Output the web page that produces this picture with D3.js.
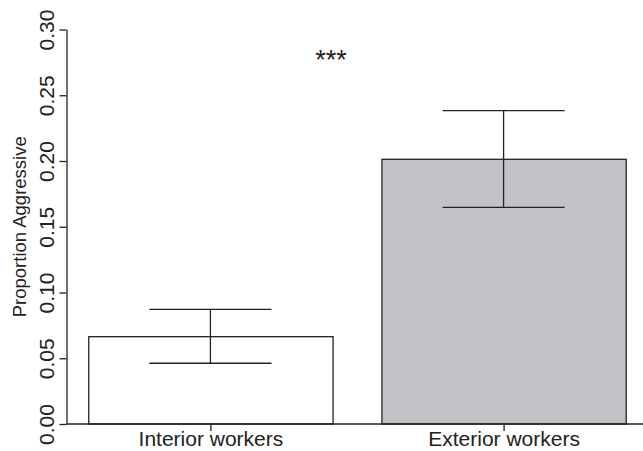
<!DOCTYPE html>
<html>
<head>
<meta charset="utf-8">
<script src="https://cdn.jsdelivr.net/npm/d3@7"></script>
<style>
  html, body { margin: 0; padding: 0; background: #fff; }
  svg { display: block; font-family: "Liberation Sans", Arial, Helvetica, sans-serif; }
</style>
</head>
<body>
<svg id="chart" width="643" height="451"></svg>
<script>
// Proportion of aggressive responses by worker group (mean with error bars)
const categories = ["Interior workers", "Exterior workers"];
const means      = [0.0664, 0.2013];
const lower      = [0.0462, 0.1648];
const upper      = [0.0872, 0.2383];
const fills      = ["#ffffff", "#c1c2c6"];
const yTicks     = [0.00, 0.05, 0.10, 0.15, 0.20, 0.25, 0.30];
const yTitle     = "Proportion Aggressive";
const signif     = "***";

const W = 643, H = 451;
const svg = d3.select("#chart");
const ink = "#222";

const plotLeft = 66.5;
const y = d3.scaleLinear().domain([0, 0.30]).range([424, 29.5]);

// bars of unit width separated by 0.2 of a width, as in a classic barplot
const x = d3.scaleBand()
  .domain(categories)
  .range([39.4, 674.6])
  .paddingInner(1 / 6)
  .paddingOuter(1 / 6);

const data = categories.map((c, i) => ({ c, m: means[i], lo: lower[i], hi: upper[i], fill: fills[i] }));

// bars
svg.append("g").selectAll("rect").data(data).join("rect")
  .attr("x", d => x(d.c) + 0.5)
  .attr("y", d => y(d.m))
  .attr("width", x.bandwidth())
  .attr("height", d => y(0) - y(d.m))
  .attr("fill", d => d.fill)
  .attr("stroke", ink)
  .attr("stroke-width", 1.3);

// error bars
const eb = svg.append("g").attr("stroke", ink).attr("stroke-width", 1.3);
data.forEach(d => {
  const cx = x(d.c) + x.bandwidth() / 2;
  const hw = x.bandwidth() / 4;
  eb.append("line").attr("x1", cx).attr("x2", cx).attr("y1", y(d.lo)).attr("y2", y(d.hi));
  eb.append("line").attr("x1", cx - hw).attr("x2", cx + hw).attr("y1", y(d.lo)).attr("y2", y(d.lo));
  eb.append("line").attr("x1", cx - hw).attr("x2", cx + hw).attr("y1", y(d.hi)).attr("y2", y(d.hi));
});

// y axis
const gy = svg.append("g")
  .attr("transform", `translate(${plotLeft},0)`)
  .call(d3.axisLeft(y).tickValues(yTicks).tickFormat(d3.format(".2f")).tickSize(7).tickSizeOuter(0));
gy.select(".domain").attr("stroke", ink).attr("stroke-width", 1.3);
gy.selectAll(".tick line").attr("stroke", ink).attr("stroke-width", 1.3);
gy.selectAll(".tick text")
  .attr("x", null).attr("dy", null)
  .attr("transform", "translate(-13,0) rotate(-90)")
  .attr("text-anchor", "middle")
  .attr("fill", ink)
  .style("font-size", "21px")
  .style("font-family", "'Liberation Sans', Arial, sans-serif");

// x axis baseline and category ticks
svg.append("line")
  .attr("x1", plotLeft).attr("x2", W)
  .attr("y1", y(0)).attr("y2", y(0))
  .attr("stroke", ink).attr("stroke-width", 1.5);
const gx = svg.append("g")
  .attr("transform", `translate(0.5,${y(0)})`)
  .call(d3.axisBottom(x).tickSize(7).tickSizeOuter(0));
gx.select(".domain").remove();
gx.selectAll(".tick line").attr("stroke", ink).attr("stroke-width", 1.3);
gx.selectAll(".tick text")
  .attr("y", 22).attr("dy", null)
  .attr("fill", ink)
  .style("font-size", "21px")
  .style("font-family", "'Liberation Sans', Arial, sans-serif");

// y axis title, centred on the plotting region
const yMid = (y.range()[0] + y.range()[1]) / 2;
svg.append("text")
  .attr("transform", `translate(26,${yMid}) rotate(-90)`)
  .attr("text-anchor", "middle")
  .attr("fill", ink)
  .style("font-size", "18.5px")
  .text(yTitle);

// significance marker
svg.append("text")
  .attr("x", 331)
  .attr("y", 69)
  .attr("text-anchor", "middle")
  .attr("fill", ink)
  .style("font-size", "27px")
  .text(signif);
</script>
</body>
</html>
